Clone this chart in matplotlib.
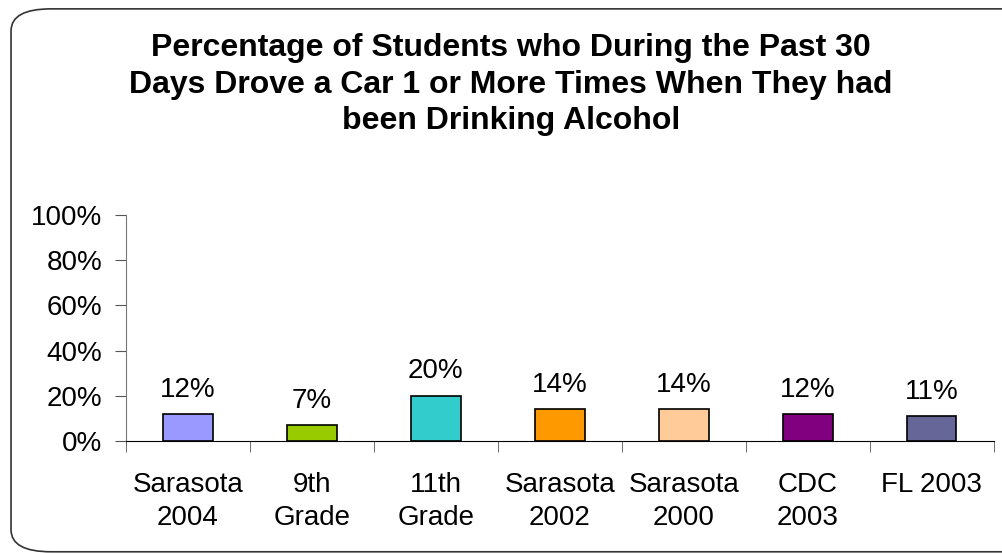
import matplotlib.pyplot as plt
from matplotlib.patches import FancyBboxPatch
import numpy as np

categories = ['Sarasota\n2004', '9th\nGrade', '11th\nGrade', 'Sarasota\n2002',
              'Sarasota\n2000', 'CDC\n2003', 'FL 2003']
values = [12, 7, 20, 14, 14, 12, 11]
bar_colors = ['#9999FF', '#99CC00', '#33CCCC', '#FF9900', '#FFCC99', '#800080', '#666699']
title = ('Percentage of Students who During the Past 30\n'
         'Days Drove a Car 1 or More Times When They had\n'
         'been Drinking Alcohol')

plt.rcParams['font.family'] = ['Liberation Sans', 'DejaVu Sans']

fig = plt.figure(figsize=(10.02, 5.54), dpi=100)

# rounded outer frame (runs off the right edge like the original)
frame = FancyBboxPatch((0.011, 0.004), 1.05, 0.98, boxstyle='round,pad=0,rounding_size=0.04',
                       transform=fig.transFigure, facecolor='white', edgecolor='#333333',
                       linewidth=1.2, mutation_aspect=554 / 1002 * 1.8, zorder=-5)
fig.patches.append(frame)

ax = fig.add_axes([0.1257, 0.204, 0.866, 0.408])
ax.set_facecolor('none')
x = np.arange(len(categories))
ax.bar(x, values, width=0.4, color=bar_colors, edgecolor='black', linewidth=1.2)
for xi, v in zip(x, values):
    ax.text(xi, v + 5, f'{v}%', ha='center', va='bottom', fontsize=20)

ax.set_xlim(-0.5, len(categories) - 0.5)
ax.set_ylim(0, 100)
ax.set_yticks([0, 20, 40, 60, 80, 100])
ax.set_yticklabels([f'{t}%' for t in [0, 20, 40, 60, 80, 100]], fontsize=20)
ax.set_xticks(x)
ax.set_xticklabels(categories, fontsize=20, linespacing=1.38)
ax.set_xticks(np.arange(len(categories) + 1) - 0.5, minor=True)
ax.tick_params(axis='x', which='major', length=0, pad=22)
ax.tick_params(axis='x', which='minor', length=8, direction='out', color='#555555')
ax.tick_params(axis='y', length=8, direction='out', color='#555555', pad=9)
ax.spines['top'].set_visible(False)
ax.spines['right'].set_visible(False)
ax.spines['left'].set_color('#777777')
ax.spines['bottom'].set_color('black')

fig.text(0.51, 0.94, title, ha='center', va='top', fontsize=23, fontweight='bold',
         linespacing=1.28)

fig.savefig('out.png', dpi=100)
